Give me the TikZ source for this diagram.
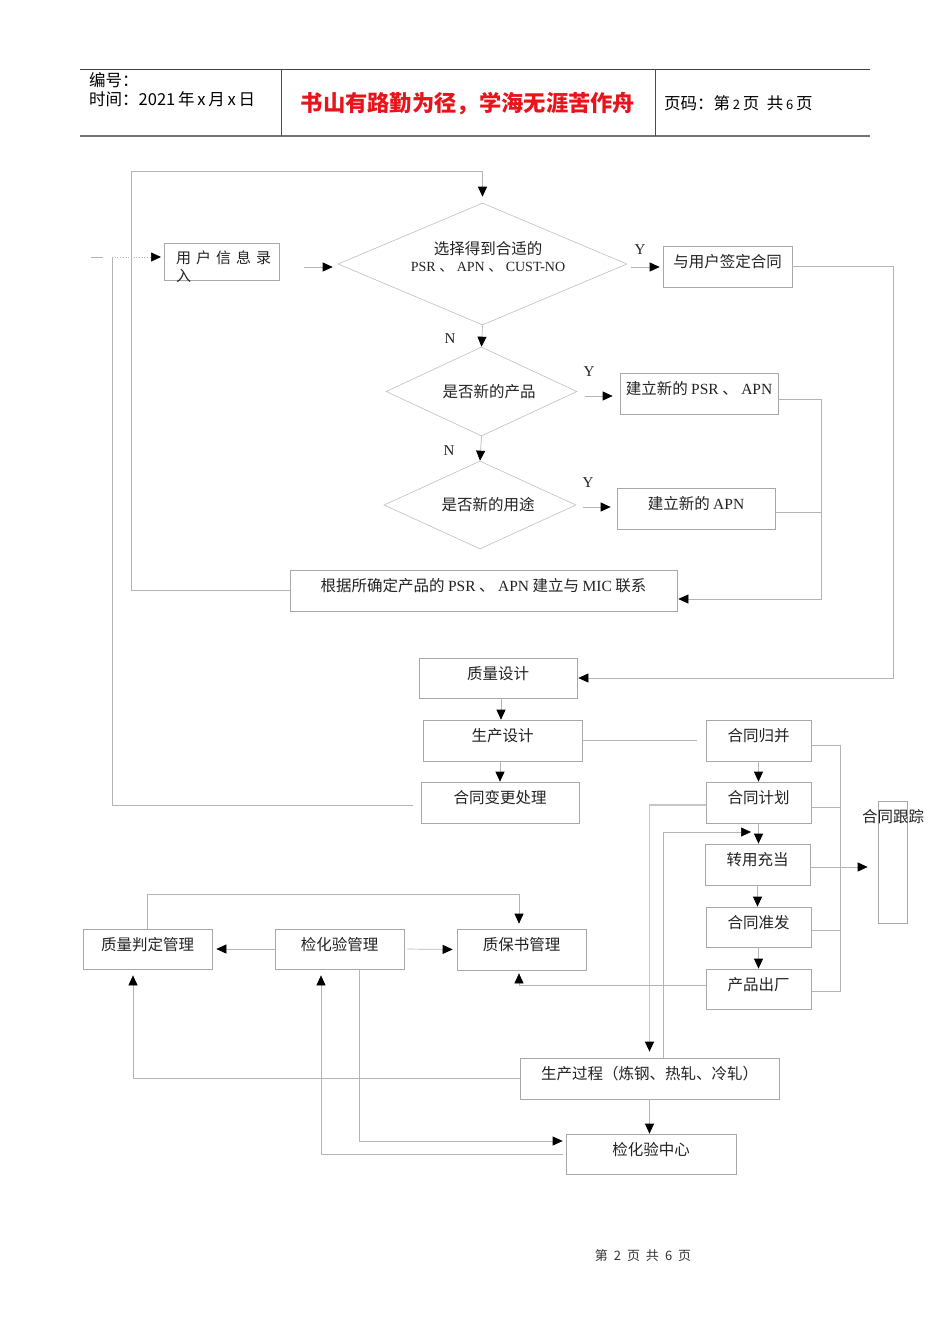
\documentclass[tikz,border=0pt]{standalone}
\usepackage{fontspec}
\setmainfont{Liberation Serif}
\newfontfamily\cjk{Noto Sans CJK SC}
\usetikzlibrary{arrows.meta,shapes.geometric,calc}
\definecolor{lgray}{HTML}{B4B4B4}
\definecolor{bgray}{HTML}{A8A8A8}
\definecolor{dgray}{HTML}{BEBEBE}
\definecolor{txt}{HTML}{222222}
\definecolor{hred}{HTML}{E8141B}
\tikzset{
  conn/.style={draw=lgray, line width=0.7pt},
  arr/.style={conn, -{Triangle[length=10pt,width=9pt,black]}},
  box/.style={draw=bgray, line width=0.7pt, inner sep=0pt, text=txt,
    font=\cjk\fontsize{15.5}{18}\selectfont, text height=12.5pt, text depth=10pt},
  dia/.style={diamond, draw=dgray, line width=0.6pt, inner sep=0pt},
  lbl/.style={text=txt, inner sep=0pt, font=\cjk\fontsize{15.5}{18}\selectfont},
  yn/.style={text=txt, inner sep=0pt, font=\fontsize{15}{17}\selectfont},
  hdr/.style={inner sep=0pt, font=\cjk\fontsize{16.5}{19}\selectfont, text=black},
}
\begin{document}
\begin{tikzpicture}[x=1pt,y=-1pt]
\useasboundingbox (0,0) rectangle (950,1344);
% ---------- header ----------
\draw[draw=black!75, line width=0.8pt] (80,69) -- (870,69);
\draw[draw=black!55, line width=1.4pt] (80,136) -- (870,136);
\draw[draw=black!70, line width=0.8pt] (281,69) -- (281,136);
\draw[draw=black!70, line width=0.8pt] (655,69) -- (655,136);
\node[hdr, anchor=west] (h1) at (89,80) {编号：};
\node[hdr, anchor=west] (h2) at (89,99) {时间：2021\,年\,x\,月\,x\,日};
\node[hdr, anchor=center, text=hred, font=\cjk\bfseries\fontsize{22.3}{25}\selectfont] (h3) at (468,104) {书山有路勤为径，学海无涯苦作舟};
\node[hdr, anchor=west] (h4) at (664,103) {页码：第\,{\fontsize{13}{14}\selectfont 2}\,页\ \ 共\,{\fontsize{13}{14}\selectfont 6}\,页};
% ---------- footer ----------
\node[inner sep=0pt, font=\cjk\fontsize{13}{15}\selectfont, text=black!80] (foot) at (643,1256) {第\hspace{6pt}2\hspace{6pt}页\hspace{6pt}共\hspace{6pt}6\hspace{6pt}页};

% ---------- nodes ----------
\node[box, minimum width=115pt, minimum height=37pt] (user) at (221.5,261.5) {};
\node[lbl, anchor=north west, align=left, font=\cjk\fontsize{15}{18}\selectfont] (usert) at (176,251) {用\hspace{5pt}户\hspace{5pt}信\hspace{5pt}息\hspace{5pt}录\\入};
\node[dia, minimum width=289pt, minimum height=122pt] (d1) at (482.5,264) {};
\node[lbl, align=center] (d1t) at (488,257) {选择得到合适的\\[-1pt]{\rmfamily\fontsize{14}{16}\selectfont PSR {\cjk 、} APN {\cjk 、} CUST-NO}};
\node[box, minimum width=129pt, minimum height=41pt] (sign) at (727.5,266.5) {与用户签定合同};
\node[dia, minimum width=191pt, minimum height=89pt] (d2) at (481.5,391.5) {};
\node[lbl] (d2t) at (489,392) {是否新的产品};
\node[box, minimum width=158pt, minimum height=41pt] (newpsr) at (699,393.5) {建立新的 {\rmfamily PSR} 、 {\rmfamily APN}};
\node[dia, minimum width=192pt, minimum height=88pt] (d3) at (480,505) {};
\node[lbl] (d3t) at (488,505) {是否新的用途};
\node[box, minimum width=158pt, minimum height=41pt] (newapn) at (696,508.5) {建立新的 {\rmfamily APN}};
\node[box, minimum width=387pt, minimum height=41pt] (mic) at (483.5,590.5) {根据所确定产品的 {\rmfamily PSR} 、 {\rmfamily APN} 建立与 {\rmfamily MIC} 联系};
\node[box, minimum width=158pt, minimum height=40pt] (qd) at (498,678) {质量设计};
\node[box, minimum width=159pt, minimum height=41pt] (pd) at (502.5,740.5) {生产设计};
\node[box, minimum width=158pt, minimum height=41pt] (chg) at (500,802.5) {合同变更处理};
\node[box, minimum width=105pt, minimum height=41pt] (merge) at (758.5,740.5) {合同归并};
\node[box, minimum width=105pt, minimum height=41pt] (plan) at (758.5,802.5) {合同计划};
\node[box, minimum width=105pt, minimum height=41pt] (conv) at (757.5,864.5) {转用充当};
\node[box, minimum width=105pt, minimum height=40pt] (rel) at (758.5,927) {合同准发};
\node[box, minimum width=105pt, minimum height=40pt] (ship) at (758.5,989) {产品出厂};
\node[box, minimum width=29pt, minimum height=122pt] (track) at (892.5,862) {};
\node[lbl] (trackt) at (893,817) {合同跟踪};
\node[box, minimum width=129pt, minimum height=40pt] (qj) at (147.5,949) {质量判定管理};
\node[box, minimum width=129pt, minimum height=40pt] (jh) at (339.5,949) {检化验管理};
\node[box, minimum width=129pt, minimum height=41pt] (zb) at (521.5,949.5) {质保书管理};
\node[box, minimum width=259pt, minimum height=41pt] (prod) at (649.5,1078.5) {生产过程（炼钢、热轧、冷轧）};
\node[box, minimum width=170pt, minimum height=40pt] (lab) at (651,1154) {检化验中心};

% ---------- labels ----------
\node[yn] (y1) at (640,250) {Y};
\node[yn] (n1) at (450,339) {N};
\node[yn] (y2) at (589,372) {Y};
\node[yn] (n2) at (449,451) {N};
\node[yn] (y3) at (588,483) {Y};

% ---------- connectors ----------
\coordinate (dashL) at (91,257);
\coordinate (dashR) at (103,257);
\coordinate (dotS) at (112,257);
\coordinate (dotE) at (161,257);
\draw[conn] (dashL) -- (dashR);
\draw[arr, dotted] (dotS) -- (dotE);
\draw[conn] ([xshift=-8pt,yshift=-2.5pt]chg.west) -| (dotS);
\draw[arr] (mic.west) -| (131,171) -| ([yshift=6pt]d1.north);
\draw[arr, shorten <=25pt, shorten >=5pt] ([yshift=-3pt]user.east |- d1.west) -- ([yshift=-3pt]d1.west);
\draw[arr, shorten <=4pt, shorten >=3pt] ([yshift=-3pt]d1.east) -- ([yshift=-3pt]d1.east -| sign.west);
\draw[arr] (sign.east) -- ++(101,0) |- ([xshift=1pt]qd.east);
\draw[arr] (d1.south) -- (d2.north);
\draw[arr, shorten <=8pt, shorten >=7pt] ([yshift=-4.5pt]d2.east) -- ([yshift=-4.5pt]d2.east -| newpsr.west);
\draw[arr] ([yshift=-6pt]newpsr.east) -- ++(43,0) |- ([yshift=-8.5pt,xshift=1pt]mic.east);
\draw[conn] ([yshift=-3.5pt]newapn.east) -- ++(46,0);
\draw[arr] (d2.south) -- (d3.north);
\draw[arr, shorten <=7pt, shorten >=6pt] ([yshift=-2pt]d3.east) -- ([yshift=-2pt]d3.east -| newapn.west);
\draw[arr] (qd.south -| 501,0) -- (pd.north -| 501,0);
\draw[conn, shorten >=9pt] (pd.east) -- (pd.east -| merge.west);
\draw[arr] (pd.south -| 500,0) -- (chg.north -| 500,0);
\draw[arr] (merge.south) -- (plan.north);
\draw[arr] (plan.south) -- (plan.south |- conv.north);
\draw[arr] (conv.south) -- (conv.south |- rel.north);
\draw[arr] (rel.south) -- (ship.north);
% tracking bus
\coordinate (bt) at (840,745.5);
\coordinate (bb) at (840,991);
\coordinate (bm) at (840,867);
\draw[conn] ([yshift=-5pt]merge.east) -- (bt) -- (bb) -- ([yshift=-2pt]ship.east);
\draw[conn] ([yshift=-5pt]plan.east) -- ++(29,0);
\draw[conn] ([yshift=-2.5pt]conv.east) -- (bm);
\draw[conn] ([yshift=-3pt]rel.east) -- ++(29,0);
\draw[arr, shorten >=10pt] (bm) -- (bm -| track.west);
% production links
\draw[arr, draw=black!22, line width=1.3pt] ([yshift=-2.5pt]plan.west) -| ([yshift=6pt]prod.north);
\coordinate (cj) at (751,832);
\draw[arr] ([xshift=13.5pt]prod.north) |- (cj);
\draw[arr] ([yshift=4pt]ship.west) -| ([xshift=-2.5pt,yshift=-3pt]zb.south);
% quality boxes
\draw[arr, shorten >=4pt] (jh.west) -- (qj.east);
\draw[arr, shorten <=3pt, shorten >=4pt] (jh.east) -- (zb.west);
\draw[arr] ([xshift=-0.5pt]qj.north) -- ++(0,-34) -| ([xshift=-2.5pt,yshift=5pt]zb.north);
\draw[arr] (prod.west) -| ([xshift=-14.5pt,yshift=-6pt]qj.south);
\draw[arr] (prod.south) -- (prod.south |- lab.north);
\draw[arr] ([xshift=19.5pt]jh.south) |- ([yshift=13pt,xshift=-3pt]lab.west);
\draw[arr] ([xshift=-3pt]lab.west) -| ([xshift=-18.5pt,yshift=-6pt]jh.south);
\end{tikzpicture}
\end{document}
